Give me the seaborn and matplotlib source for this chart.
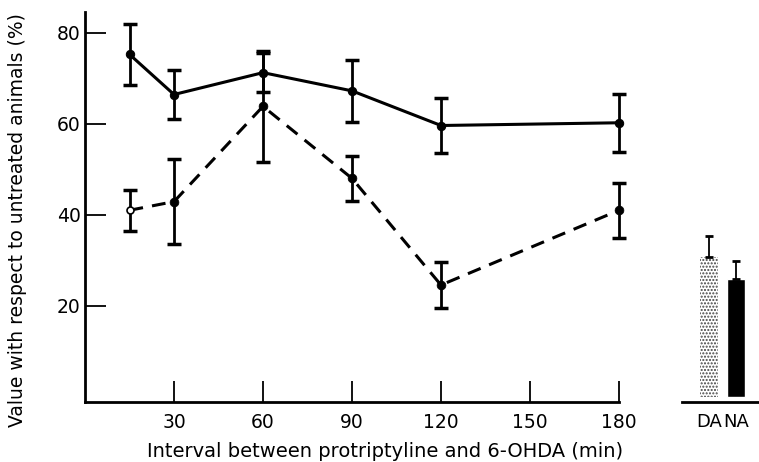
import matplotlib
matplotlib.use('Agg')
import matplotlib.pyplot as plt
import seaborn as sns

# values
minutes = [15, 30, 60, 90, 120, 180]
solid_vals = [75.2, 66.4, 71.2, 67.2, 59.6, 60.2]
solid_err = [6.7, 5.3, 4.3, 6.8, 6.0, 6.4]
dashed_vals = [41.0, 42.9, 63.8, 48.0, 24.6, 41.0]
dashed_err = [4.5, 9.3, 12.2, 5.0, 5.0, 6.0]
bar_labels = ['DA', 'NA']
bar_vals = [30.8, 26.0]
bar_err = [4.5, 3.9]
y_ticks = [20, 40, 60, 80]
x_ticks = [30, 60, 90, 120, 150, 180]

sns.set_style("white")
plt.rcParams['font.family'] = ['DejaVu Sans']

fig = plt.figure(figsize=(7.59, 4.62), dpi=100)
ax = fig.add_axes([0.112, 0.1305, 0.7035, 0.8435])
ax2 = fig.add_axes([0.8986, 0.1305, 0.1014, 0.8435], sharey=ax)

# solid curve
sns.lineplot(x=minutes, y=solid_vals, ax=ax, color='black', lw=2.2,
             marker='o', markersize=6, markeredgecolor='black', clip_on=False)
ax.errorbar(minutes, solid_vals, yerr=solid_err, fmt='none', ecolor='black',
            elinewidth=2, capsize=5, capthick=2.5, clip_on=False)

# dashed curve
sns.lineplot(x=minutes, y=dashed_vals, ax=ax, color='black', lw=2.2,
             dashes=False, linestyle=(0, (4.5, 3)), clip_on=False)
ax.errorbar(minutes, dashed_vals, yerr=dashed_err, fmt='none', ecolor='black',
            elinewidth=2, capsize=5, capthick=2.5, clip_on=False)
sns.scatterplot(x=minutes[1:], y=dashed_vals[1:], ax=ax, color='black',
                s=40, edgecolor='black', zorder=5, clip_on=False)
sns.scatterplot(x=minutes[:1], y=dashed_vals[:1], ax=ax, color='white',
                s=25, edgecolor='black', linewidth=1.2, zorder=5, clip_on=False)

ax.set_xlim(0, 180)
ax.set_ylim(-1, 84.5)
ax.set_xticks(x_ticks)
ax.set_yticks(y_ticks)
ax.tick_params(axis='both', direction='in', length=15, width=1.3,
               labelsize=13.5, color='black', labelcolor='black',
               bottom=True, left=True)
ax.tick_params(axis='y', pad=3)
ax.tick_params(axis='x', pad=8)
for s in ['top', 'right']:
    ax.spines[s].set_visible(False)
for s in ['left', 'bottom']:
    ax.spines[s].set_linewidth(2)
    ax.spines[s].set_color('black')
ax.set_xlabel('Interval between protriptyline and 6-OHDA (min)', fontsize=14,
              color='black')
ax.set_ylabel('Value with respect to untreated animals (%)', fontsize=13.5,
              color='black')
ax.xaxis.set_label_coords(0.562, -0.104)
ax.yaxis.set_label_coords(-0.108, 0.466)

# bar panel
sns.barplot(x=bar_labels, y=bar_vals, ax=ax2, width=0.67,
            palette=['white', 'black'], hue=bar_labels, legend=False)
ax2.patches[0].set_hatch('.....')
ax2.patches[0].set_edgecolor('#444444')
ax2.patches[0].set_linewidth(0)
ax2.errorbar([0, 1], bar_vals, yerr=[[0, 0], bar_err], fmt='none',
             ecolor='black', elinewidth=1.3, capsize=3, capthick=2)
ax2.set_xlim(-1.0, 1.85)
ax2.set_xlabel('')
ax2.set_ylabel('')
ax2.tick_params(axis='x', length=0, labelsize=13, pad=8, labelcolor='black')
ax2.tick_params(axis='y', left=False, labelleft=False)
for s in ['top', 'right', 'left']:
    ax2.spines[s].set_visible(False)
ax2.spines['bottom'].set_linewidth(2)
ax2.spines['bottom'].set_color('black')

fig.savefig('out.png', dpi=100)
plt.close(fig)
